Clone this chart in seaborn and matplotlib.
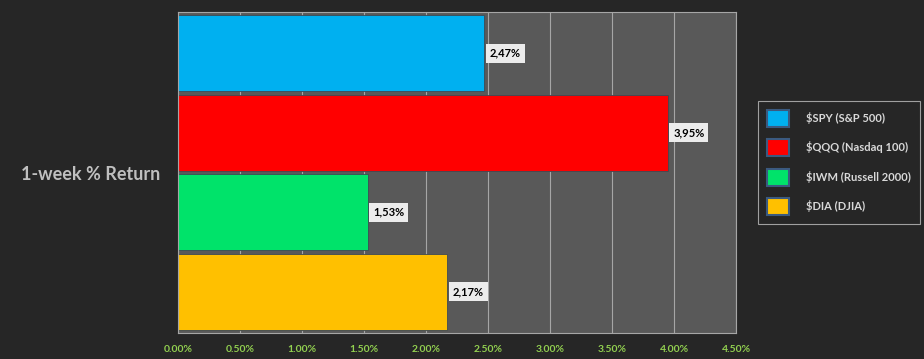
import pandas as pd
import seaborn as sns
import matplotlib.pyplot as plt

# data
metric = ['1-week % Return'] * 4
tickers = ['$SPY (S&P 500)', '$QQQ (Nasdaq 100)', '$IWM (Russell 2000)', '$DIA (DJIA)']
returns = [2.47, 3.95, 1.53, 2.17]
bar_colors = ['#00B0F0', '#FF0000', '#00E36A', '#FFC000']
xticks = [0.0, 0.5, 1.0, 1.5, 2.0, 2.5, 3.0, 3.5, 4.0, 4.5]

df = pd.DataFrame({'metric': metric, 'ticker': tickers, 'ret': returns})

sns.set_style('dark')
plt.rcParams['font.family'] = ['Lato', 'DejaVu Sans']

fig = plt.figure(figsize=(9.24, 3.59), dpi=100, facecolor='#262626')
ax = fig.add_axes([178 / 924, 1 - 333 / 359, (736 - 178) / 924, (333 - 12) / 359])
ax.set_facecolor('#595959')

sns.barplot(data=df, x='ret', y='metric', hue='ticker', hue_order=tickers,
            palette=bar_colors, orient='h', width=0.99, gap=0.04, ax=ax,
            edgecolor='#3d4a55', linewidth=0.6, saturation=1)

ax.set_xlim(0, 4.5)
ax.set_xticks(xticks)
ax.set_xticklabels([f'{t:.2f}%' for t in xticks], color='#92D050',
                   fontsize=7.5, fontweight='bold')
ax.tick_params(axis='x', length=3, color='#a6a6a6', pad=6)
ax.tick_params(axis='y', length=0, pad=13)
for lab in ax.get_yticklabels():
    lab.set_color('#bfbfbf')
    lab.set_fontsize(13)
    lab.set_fontweight('bold')
ax.set_xlabel('')
ax.set_ylabel('')

ax.grid(axis='x', color='#a6a6a6', linewidth=0.8)
ax.grid(axis='y', visible=False)
ax.set_axisbelow(True)
for side, sp in ax.spines.items():
    sp.set_visible(True)
    sp.set_color('#a6a6a6')
    sp.set_linewidth(0.8)

for cont, v in zip(ax.containers, returns):
    ax.bar_label(cont, labels=[f'{v:.2f}%'.replace('.', ',')], padding=4,
                 fontsize=8, fontweight='bold', color='black',
                 bbox=dict(boxstyle='square,pad=0.35', facecolor='#ececec',
                           edgecolor='none'))

leg = ax.legend(loc='center left', bbox_to_anchor=(758 / 924, 1 - 162.5 / 359),
                bbox_transform=fig.transFigure, frameon=True, fancybox=False,
                facecolor='#262626', edgecolor='#bfbfbf', fontsize=8,
                handlelength=2.0, handleheight=2.0, labelspacing=1.1,
                handletextpad=1.5, borderpad=0.8, borderaxespad=0)
leg.get_frame().set_linewidth(0.8)
for t in leg.get_texts():
    t.set_color('#d9d9d9')
    t.set_fontweight('bold')
for h in leg.legend_handles:
    h.set_edgecolor('#3b5a80')
    h.set_linewidth(1.5)

fig.savefig('out.png', dpi=100, facecolor=fig.get_facecolor())
